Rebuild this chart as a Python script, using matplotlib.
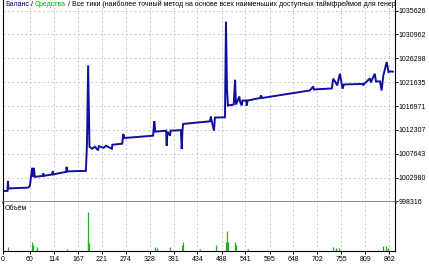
import matplotlib.pyplot as plt
from matplotlib.transforms import ScaledTranslation

plt.rcParams['font.family'] = ['Liberation Sans', 'DejaVu Sans']

# balance curve: trade number / deposit
trades = [2, 10, 11, 12, 56, 60, 65, 67, 69, 71, 89, 90, 91, 110, 111, 112, 141, 142, 143, 185,
          187.5, 190, 193, 199, 205, 212, 214, 225, 230, 243, 244, 266, 268.5, 271, 335, 337.7, 340,
          364, 365.4, 367, 373, 374, 397, 399, 400.6, 402, 462, 464, 466, 471, 473, 495.5, 497.7,
          500, 502, 515, 518, 520, 527.5, 529, 533, 534.5, 543, 544, 546, 574, 576, 578, 685,
          692.5, 694, 734, 737, 741, 746, 752, 758, 761, 803, 804, 806, 819, 821, 830, 832.5,
          841.5, 845, 849, 856.5, 860.5, 866, 870]
balance = [1000378, 1000378, 1002342, 1000869, 1001026, 1001360, 1004895, 1003128, 1004895,
           1003128, 1003325, 1003815, 1003325, 1003620, 1004208, 1003620, 1004110, 1005092,
           1004208, 1004306,
           1009609, 1024928, 1009020, 1008627, 1009020, 1008332, 1009118, 1008823, 1009216,
           1008627, 1009413, 1009609, 1011514, 1010728, 1011180, 1013989, 1011966,
           1012162, 1009216, 1011966, 1011180, 1012162, 1012260, 1008568, 1012260, 1013478,
           1013989, 1014912, 1013989, 1012162, 1014715, 1014774, 1033432,
           1020352, 1017072, 1017268, 1022120, 1017268, 1018840, 1017858, 1017072, 1018054,
           1018054, 1017072, 1018054, 1018545, 1019036, 1018545, 1020018,
           1020804, 1020214, 1020410, 1022316, 1021786, 1021001, 1023298, 1020352, 1021197,
           1021295, 1021001, 1021295, 1022375, 1021590, 1023298, 1021786,
           1021786, 1020018, 1022964, 1025577, 1023612, 1023749, 1023700]

# volume (lots) per trade
vol_x = [12, 64, 68, 75, 142, 189, 190.5, 193, 339, 343, 373, 399, 401, 440, 475,
         497, 499, 502, 518, 520, 547.5, 737, 742.5, 750, 838, 849, 854, 859]
vol_lots = [0.09, 0.18, 0.12, 0.08, 0.04, 0.23, 0.80, 0.17, 0.09, 0.06, 0.08, 0.12, 0.19, 0.04, 0.12,
            0.19, 0.40, 0.19, 0.19, 0.12, 0.04, 0.09, 0.06, 0.07, 0.03, 0.10, 0.10, 0.06]

y_ticks = [998316, 1002980, 1007643, 1012307, 1016971, 1021635, 1026298, 1030962, 1035626]
x_ticks = [0, 60, 114, 167, 221, 274, 328, 381, 434, 488, 541, 595, 648, 702, 755, 809, 862]

fs = 5.0
grid_kw = dict(color='#c8c8c8', linestyle=(0, (2, 2.5)), linewidth=0.7)

fig = plt.figure(figsize=(4.29, 2.64), dpi=100)
ax = fig.add_axes([3 / 429, 62.5 / 264, 392 / 429, 201.5 / 264])
axv = fig.add_axes([3 / 429, 13 / 264, 392 / 429, 49 / 264])

# main panel
ax.plot(trades, balance, color='#1010a0', linewidth=1.4, solid_joinstyle='miter')
ax.set_xlim(0, 875)
ax.set_ylim(998316, 1037700)
ax.yaxis.tick_right()
ax.set_yticks(y_ticks)
ax.set_yticklabels([str(v) for v in y_ticks], fontsize=fs)
off = ScaledTranslation(0, 2 / 72, fig.dpi_scale_trans)
for lab in ax.get_yticklabels():
    lab.set_transform(lab.get_transform() + off)
ax.tick_params(axis='y', length=2, width=0.7, pad=0.5)
ax.set_xticks(x_ticks)
ax.tick_params(axis='x', length=0, labelbottom=False)
ax.grid(True, **grid_kw)
ax.set_axisbelow(True)
ax.spines['top'].set_visible(False)
ax.spines['bottom'].set_color('#808080')
ax.spines['bottom'].set_linewidth(2)
ax.spines['left'].set_linewidth(0.8)
ax.spines['right'].set_linewidth(0.8)

t1 = ax.text(0.005, 0.995, 'Баланс', transform=ax.transAxes, fontsize=fs, color='#000080',
             va='top', ha='left', clip_on=True)
t2 = ax.annotate(' / ', xy=(1, 0), xycoords=t1, fontsize=fs, color='black', va='bottom',
                 annotation_clip=False, clip_on=True)
t3 = ax.annotate('Средства', xy=(1, 0), xycoords=t2, fontsize=fs, color='#00b000', va='bottom',
                 annotation_clip=False, clip_on=True)
ax.annotate(' / Все тики (наиболее точный метод на основе всех наименьших доступных таймфреймов '
            'для генерации каждого тика)', xy=(1, 0), xycoords=t3, fontsize=fs, color='black',
            va='bottom', annotation_clip=False, clip_on=True)

# volume panel
axv.vlines(vol_x, 0, vol_lots, color='#22b022', linewidth=0.9)
axv.set_xlim(0, 875)
axv.set_ylim(0, 1.0)
axv.set_yticks([])
axv.set_xticks(x_ticks)
axv.set_xticklabels([str(v) for v in x_ticks], fontsize=fs)
axv.tick_params(axis='x', length=2.5, width=0.7, pad=1)
axv.grid(True, axis='x', **grid_kw)
axv.set_axisbelow(True)
axv.spines['top'].set_visible(False)
for s in ['left', 'right', 'bottom']:
    axv.spines[s].set_linewidth(0.8)
axv.text(0.005, 0.93, 'Объём', transform=axv.transAxes, fontsize=fs, va='top', ha='left')

fig.savefig('out.png', dpi=100)
